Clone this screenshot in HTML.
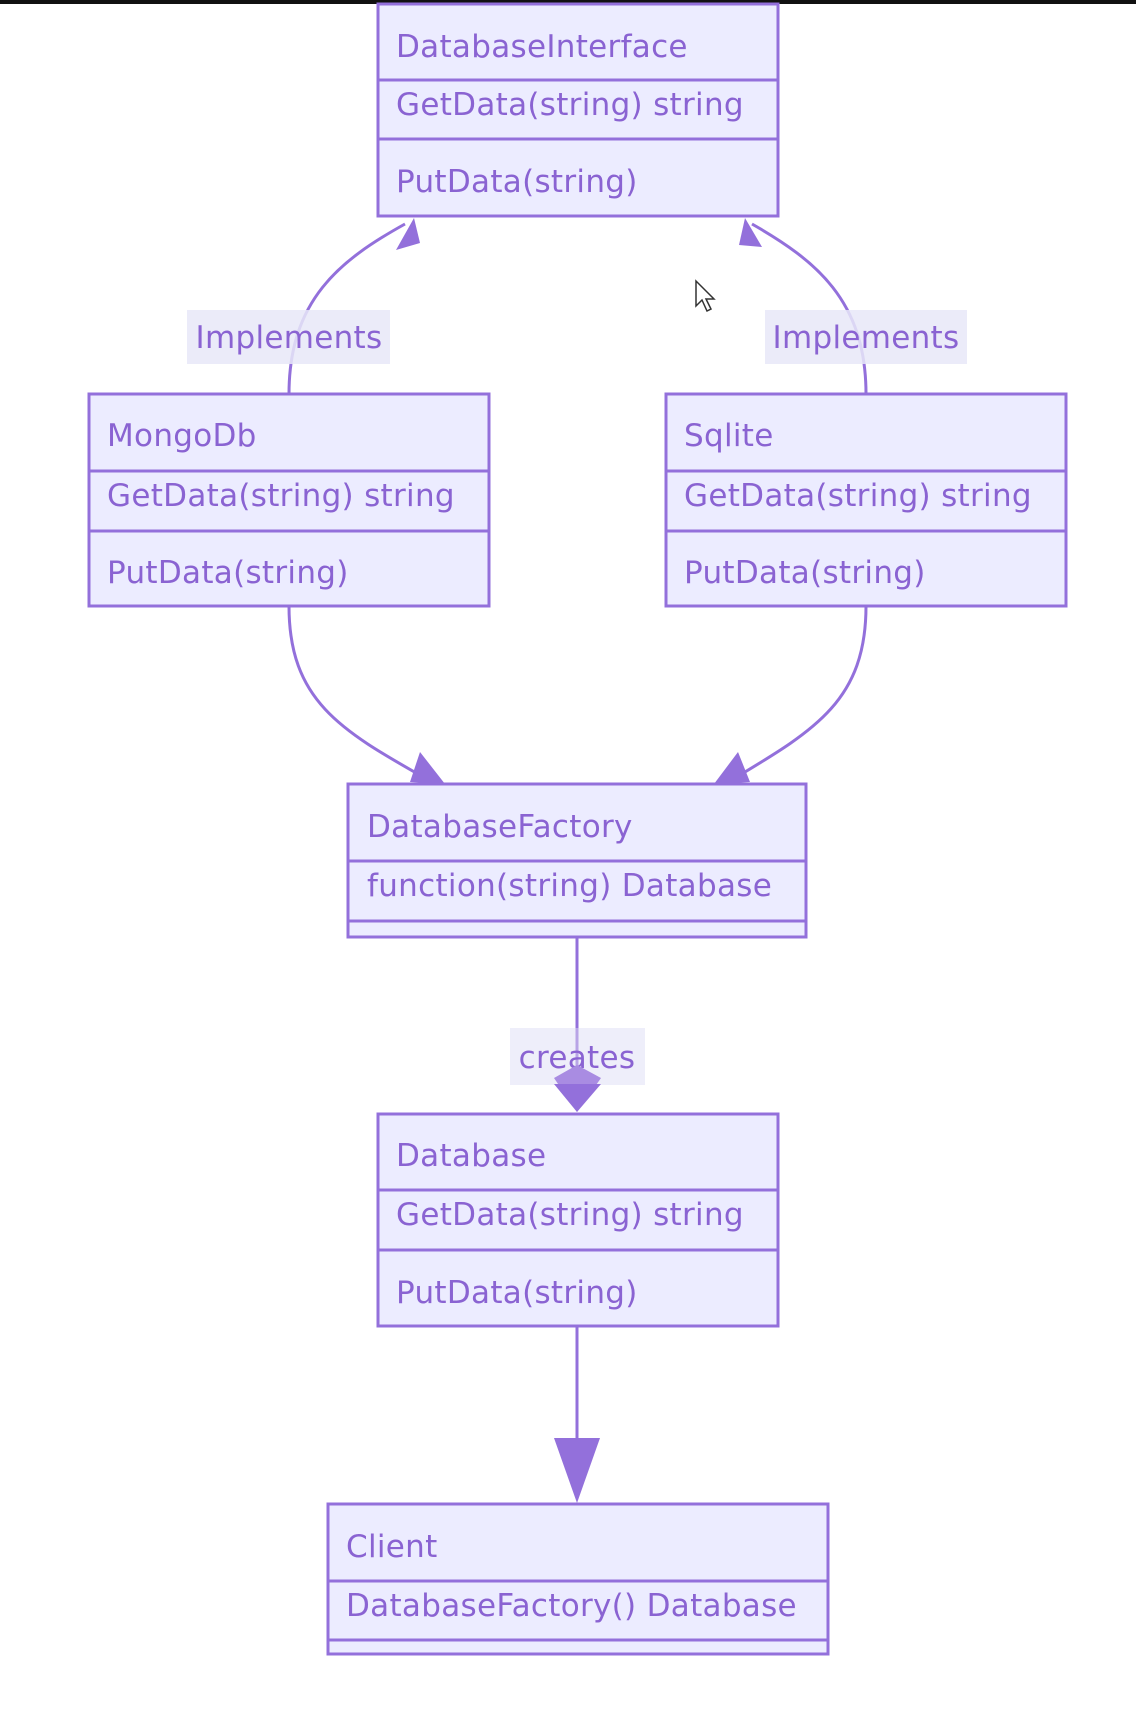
<!DOCTYPE html>
<html><head><meta charset="utf-8"><style>
html,body{margin:0;padding:0;background:#fff;width:1136px;height:1718px;overflow:hidden}
</style></head><body>
<svg width="1136" height="1718" viewBox="0 0 1136 1718" xmlns="http://www.w3.org/2000/svg" style="display:block">
<rect x="0" y="0" width="1136" height="4" fill="#111"/>
<g font-family="'DejaVu Sans','Liberation Sans',sans-serif" font-size="31" letter-spacing="0.3" fill="#8a63d2">
<g fill="none" stroke="#9370db" stroke-width="3">
<path d="M289 394 C289 300 340 260 405 224"/>
<path d="M866 394 C866 300 815 260 752 224"/>
<path d="M289 606 C289 700 340 730 425 778"/>
<path d="M866 606 C866 700 815 730 735 778"/>
<path d="M577 937 L577 1066"/>
<path d="M577 1326 L577 1440"/>
</g>
<polygon points="414,218 396,250 420,243" fill="#9370db"/>
<polygon points="745,218 739,245 762,247" fill="#9370db"/>
<polygon points="445,784 420,752 410,782" fill="#9370db"/>
<polygon points="714,784 738,752 750,782" fill="#9370db"/>
<polygon points="554,1438 600,1438 577,1503" fill="#9370db"/>
<rect x="187" y="310" width="203" height="54" fill="#e8e8f8" opacity="0.85"/>
<text x="289" y="348" text-anchor="middle">Implements</text>
<rect x="765" y="310" width="202" height="54" fill="#e8e8f8" opacity="0.85"/>
<text x="866" y="348" text-anchor="middle">Implements</text>
<rect x="510" y="1028" width="135" height="57" fill="#ececfa" opacity="0.9"/>
<line x1="577" y1="1028" x2="577" y2="1066" stroke="#b8a4e6" stroke-width="3"/>
<text x="577" y="1068" text-anchor="middle">creates</text>
<polygon points="577,1065 601,1078 577,1112 554,1078" fill="#a98ce2"/>
<polygon points="554,1084 601,1084 577,1112" fill="#9370db"/>
<g fill="#ececff" stroke="#9370db" stroke-width="3">
<rect x="378" y="4" width="400" height="212"/>
<line x1="378" y1="80" x2="778" y2="80"/><line x1="378" y1="139" x2="778" y2="139"/>
<rect x="89" y="394" width="400" height="212"/>
<line x1="89" y1="471" x2="489" y2="471"/><line x1="89" y1="531" x2="489" y2="531"/>
<rect x="666" y="394" width="400" height="212"/>
<line x1="666" y1="471" x2="1066" y2="471"/><line x1="666" y1="531" x2="1066" y2="531"/>
<rect x="348" y="784" width="458" height="153"/>
<line x1="348" y1="861" x2="806" y2="861"/><line x1="348" y1="921" x2="806" y2="921"/>
<rect x="378" y="1114" width="400" height="212"/>
<line x1="378" y1="1190" x2="778" y2="1190"/><line x1="378" y1="1250" x2="778" y2="1250"/>
<rect x="328" y="1504" width="500" height="150"/>
<line x1="328" y1="1581" x2="828" y2="1581"/><line x1="328" y1="1640" x2="828" y2="1640"/>
</g>
<text x="396" y="57">DatabaseInterface</text>
<text x="396" y="115">GetData(string) string</text>
<text x="396" y="192">PutData(string)</text>
<text x="107" y="446">MongoDb</text>
<text x="107" y="506">GetData(string) string</text>
<text x="107" y="583">PutData(string)</text>
<text x="684" y="446">Sqlite</text>
<text x="684" y="506">GetData(string) string</text>
<text x="684" y="583">PutData(string)</text>
<text x="367" y="837">DatabaseFactory</text>
<text x="367" y="896">function(string) Database</text>
<text x="396" y="1166">Database</text>
<text x="396" y="1225">GetData(string) string</text>
<text x="396" y="1303">PutData(string)</text>
<text x="346" y="1557">Client</text>
<text x="346" y="1616">DatabaseFactory() Database</text>
</g>
<path d="M696 281 L696 306 L702 300 L707 311 L711 309 L706 299 L714 299 Z" fill="#fff" stroke="#333" stroke-width="1.5"/>
</svg>
</body></html>
